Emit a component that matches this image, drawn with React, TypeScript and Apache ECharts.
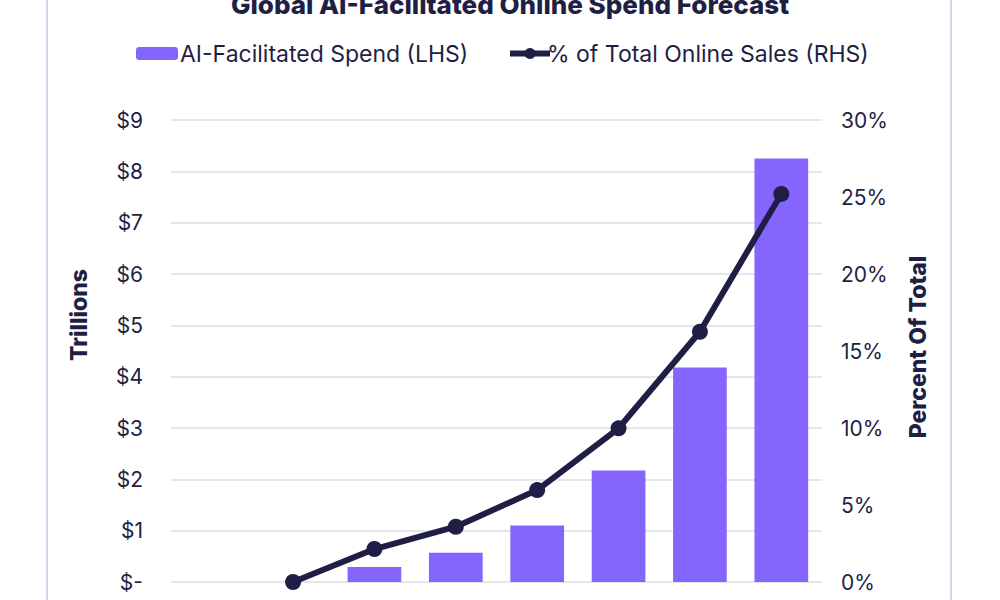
import { useEffect, useRef } from "react"
import * as echarts from "echarts"

const years = ["2023", "2024", "2025", "2026", "2027", "2028", "2029", "2030"]
const spendTrillions = [null, 0, 0.29, 0.57, 1.1, 2.17, 4.18, 8.25]
const pctOfOnline = [null, 0, 2.14, 3.59, 5.97, 9.98, 16.25, 25.2]

const NAVY = "#1f1f45"
const PURPLE = "#8466ff"
const FONT = "Inter, 'Open Sans', sans-serif"

export default function App() {
  const chartRef = useRef<HTMLDivElement>(null)

  useEffect(() => {
    if (!chartRef.current) return
    const chart = echarts.init(chartRef.current, null, { renderer: "svg" })

    const option = {
      animation: false,
      textStyle: { fontFamily: FONT },
      title: {
        text: "Global AI-Facilitated Online Spend Forecast",
        left: 505,
        textAlign: "center",
        top: -14,
        textStyle: { fontFamily: FONT, fontSize: 26, fontWeight: 800, color: NAVY }
      },
      legend: [
        {
          left: 131,
          top: 37,
          itemWidth: 42,
          itemHeight: 13,
          data: ["AI-Facilitated Spend (LHS)"],
          textStyle: { fontFamily: FONT, fontSize: 23, color: NAVY, padding: [0, 0, 0, -3] }
        },
        {
          left: 502,
          top: 37,
          itemWidth: 40,
          itemHeight: 14,
          data: ["% of Total Online Sales (RHS)"],
          lineStyle: { width: 6 },
          textStyle: { fontFamily: FONT, fontSize: 23, color: NAVY, padding: [0, 0, 0, -8] }
        }
      ],
      grid: { left: 171, right: 178, top: 120, bottom: 18 },
      xAxis: {
        type: "category",
        data: years,
        axisLine: { show: false },
        axisTick: { show: false },
        axisLabel: { show: false }
      },
      yAxis: [
        {
          type: "value",
          min: 0,
          max: 9,
          interval: 1,
          axisLine: { show: false },
          axisTick: { show: false },
          axisLabel: {
            margin: 28,
            fontSize: 21,
            color: NAVY,
            fontFamily: FONT,
            formatter: (v: number) => (v === 0 ? "$-" : "$" + v)
          },
          splitLine: { lineStyle: { color: "#dcdce6", width: 1.5 } }
        },
        {
          type: "value",
          min: 0,
          max: 30,
          interval: 5,
          axisLine: { show: false },
          axisTick: { show: false },
          axisLabel: {
            margin: 19,
            fontSize: 21,
            color: NAVY,
            fontFamily: FONT,
            formatter: (v: number) => v + "%"
          },
          splitLine: { show: false }
        }
      ],
      graphic: [
        {
          type: "text",
          x: 79,
          y: 315,
          rotation: Math.PI / 2,
          style: {
            text: "Trillions",
            fontFamily: FONT,
            fontSize: 23,
            fontWeight: 800,
            fill: NAVY,
            align: "center",
            verticalAlign: "middle"
          }
        },
        {
          type: "text",
          x: 918,
          y: 347,
          rotation: Math.PI / 2,
          style: {
            text: "Percent Of Total",
            fontFamily: FONT,
            fontSize: 23,
            fontWeight: 800,
            fill: NAVY,
            align: "center",
            verticalAlign: "middle"
          }
        },
        {
          type: "line",
          shape: { x1: 47, y1: 0, x2: 47, y2: 600 },
          style: { stroke: "#d3d6e8", lineWidth: 2 }
        },
        {
          type: "line",
          shape: { x1: 951, y1: 0, x2: 951, y2: 600 },
          style: { stroke: "#d3d6e8", lineWidth: 2 }
        }
      ],
      series: [
        {
          name: "AI-Facilitated Spend (LHS)",
          type: "bar",
          yAxisIndex: 0,
          barWidth: "66%",
          data: spendTrillions,
          itemStyle: { color: PURPLE }
        },
        {
          name: "% of Total Online Sales (RHS)",
          type: "line",
          yAxisIndex: 1,
          data: pctOfOnline,
          symbol: "circle",
          symbolSize: 16,
          connectNulls: false,
          lineStyle: { color: NAVY, width: 6 },
          itemStyle: { color: NAVY }
        }
      ]
    }

    chart.setOption(option)

    return () => {
      chart.dispose()
    }
  }, [])

  return (
    <div
      ref={chartRef}
      style={{ position: "fixed", left: 0, top: 0, width: 1000, height: 600, background: "#fff" }}
    />
  )
}
